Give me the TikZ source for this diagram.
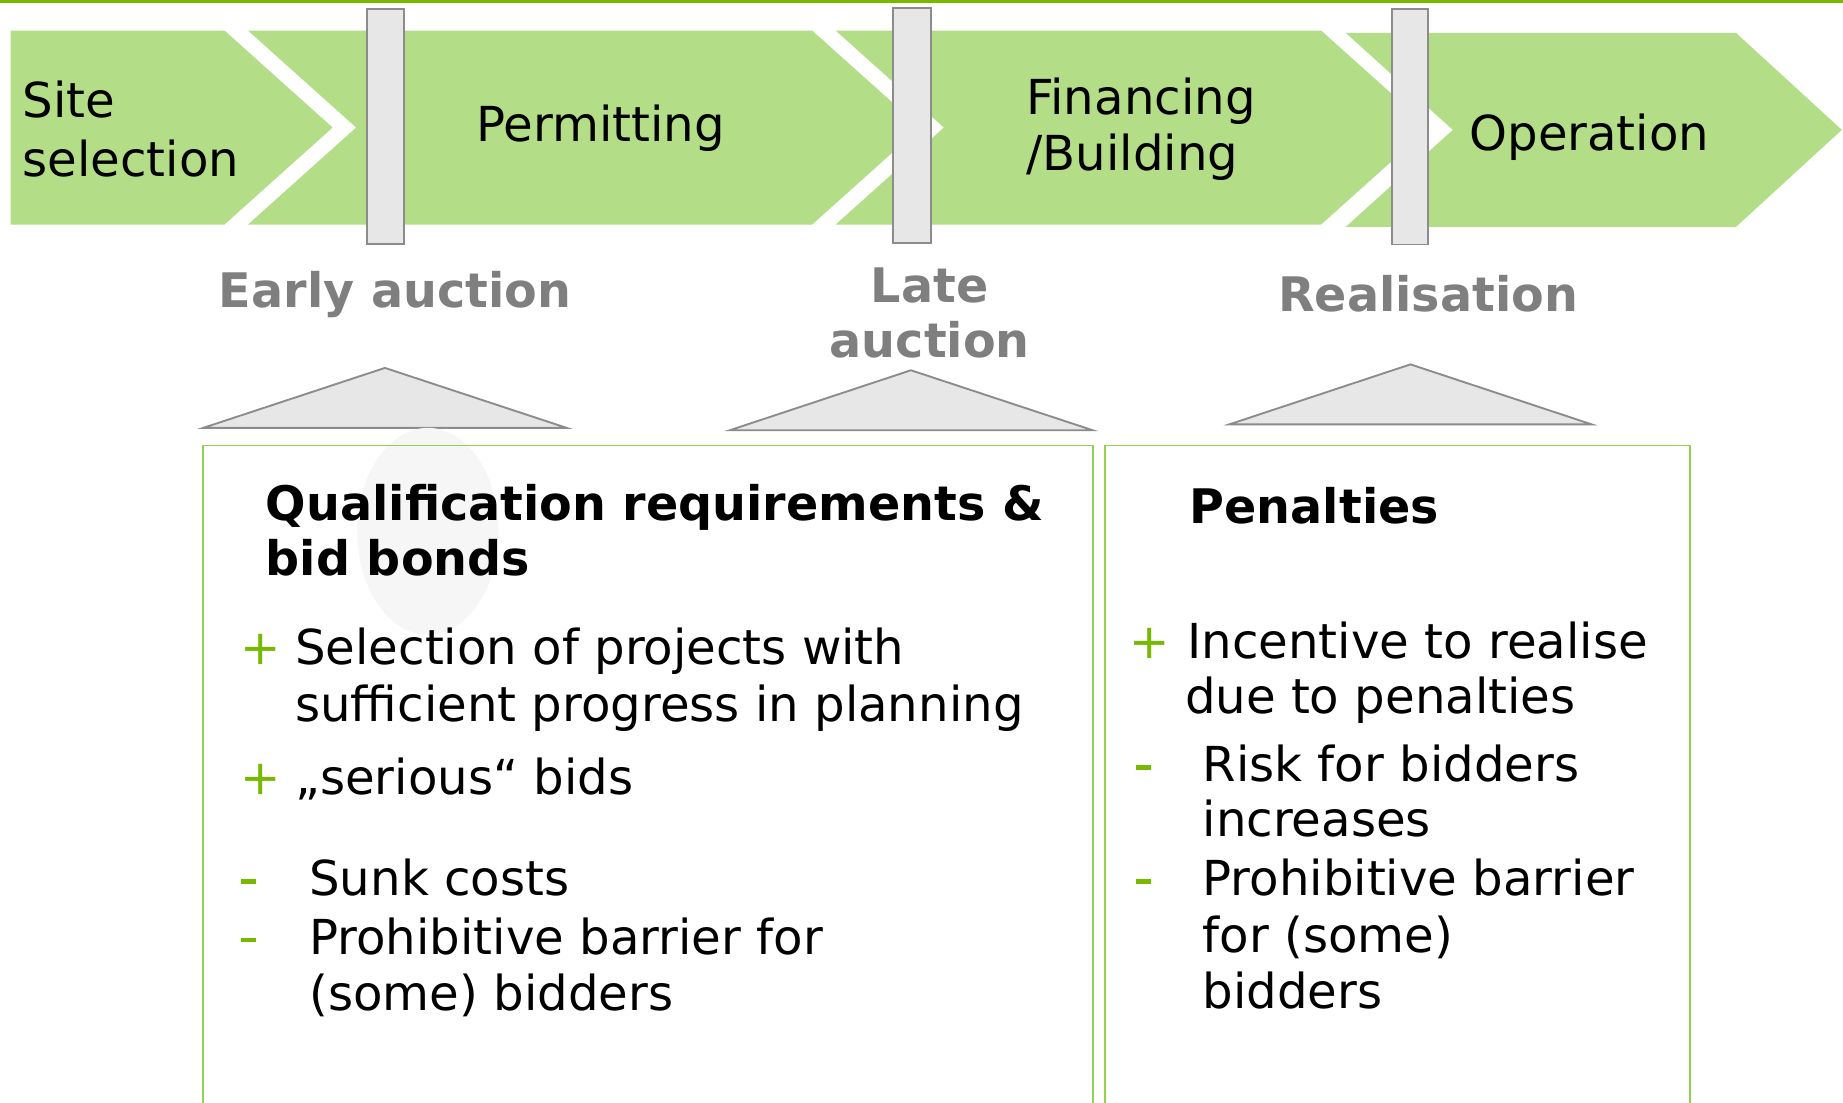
\documentclass[tikz,border=0pt]{standalone}
\usepackage{fontspec}
\setmainfont{DejaVu Sans}
\definecolor{chevgreen}{HTML}{B3DE87}
\definecolor{topgreen}{HTML}{7AB800}
\definecolor{boxgreen}{HTML}{92D050}
\definecolor{bulletgreen}{HTML}{76B900}
\definecolor{labelgray}{HTML}{7F7F7F}
\definecolor{barfill}{HTML}{E7E7E7}
\definecolor{barline}{HTML}{8C8C8C}
\definecolor{shadowgray}{HTML}{F6F6F6}
\newcommand{\greendash}{\textcolor{bulletgreen}{\rule[10.2pt]{13pt}{3.6pt}}}
\begin{document}
\begin{tikzpicture}[x=1pt,y=-1pt,
  chev/.style={fill=chevgreen,draw=none},
  bar/.style={fill=barfill,draw=barline,line width=1.6pt},
  tri/.style={fill=barfill,draw=barline,line width=1.6pt,line join=miter},
  panel/.style={draw=boxgreen,line width=1.6pt},
  txt/.style={inner sep=0pt,anchor=base west,font=\fontsize{41}{49}\selectfont},
  head/.style={txt,font=\fontsize{40.5}{49}\selectfont\bfseries},
  phase/.style={inner sep=0pt,anchor=base,font=\fontsize{40.5}{49}\selectfont\bfseries,text=labelgray},
  bul/.style={txt,text=bulletgreen}]
\useasboundingbox (0,0) rectangle (1568,938);
\fill[white] (0,0) rectangle (1568,938);
% top rule
\draw[topgreen,line width=3pt] (0,1) -- (1568,1);
% chevrons
\path[chev] (9,26) -- (191,26) -- (283,108.5) -- (191,191) -- (9,191) -- cycle;
\path[chev] (211,26) -- (691,26) -- (783,108.5) -- (691,191) -- (211,191) -- (303,108.5) -- cycle;
\path[chev] (711,26) -- (1124,26) -- (1216,108.5) -- (1124,191) -- (711,191) -- (803,108.5) -- cycle;
\path[chev] (1145,28) -- (1477,28) -- (1567,110.5) -- (1477,193) -- (1145,193) -- (1236,110.5) -- cycle;
% chevron labels
\node[txt] (site1) at (19,100) {Site};
\node[txt] (site2) at (19,150) {selection};
\node[txt] (perm) at (405,120) {Permitting};
\node[txt] (fin1) at (873,97) {Financing};
\node[txt] (fin2) at (873,145) {/Building};
\node[txt] (oper) at (1250,128) {Operation};
% milestone bars
\draw[bar] (312,8) rectangle (344,207.5);
\draw[bar] (760,7) rectangle (792,206.5);
\draw[bar] (1184,8) rectangle (1215,208);
% phase labels
\node[phase] (early) at (336,262) {Early auction};
\node[phase] (late1) at (791,257) {Late};
\node[phase] (late2) at (791,304) {auction};
\node[phase] (real) at (1215,265) {Realisation};
% triangles
\draw[tri] (173,364) -- (327.5,313) -- (482,364) -- cycle;
\draw[tri] (621,366) -- (775,315) -- (929.5,366) -- cycle;
\draw[tri] (1046,361) -- (1200,310) -- (1354,361) -- cycle;
% faint shadow
\fill[shadowgray] (364,452) ellipse [x radius=60, y radius=88];
% panels
\draw[panel] (173,945) -- (173,379) -- (930,379) -- (930,945);
\draw[panel] (940,945) -- (940,379) -- (1438,379) -- (1438,945);
% panel 1 text
\node[head] (q1) at (226,443) {Qualification requirements \&};
\node[head] (q2) at (226,490) {bid bonds};
\node[bul] (p1) at (204,565) {+};
\node[txt] (a1) at (251,565) {Selection of projects with};
\node[txt] (a2) at (251,614) {sufficient progress in planning};
\node[bul] (p2) at (204,676) {+};
\node[txt] (b1) at (251,676) {„serious“ bids};
\node[txt] (m1) at (205,762) {\greendash};
\node[txt] (c1) at (263,762) {Sunk costs};
\node[txt] (m2) at (205,812) {\greendash};
\node[txt] (d1) at (263,812) {Prohibitive barrier for};
\node[txt] (d2) at (263,860) {(some) bidders};
% panel 2 text
\node[head] (pen) at (1012,445) {Penalties};
\node[bul] (p3) at (961,560) {+};
\node[txt] (e1) at (1010,560) {Incentive to realise};
\node[txt] (e2) at (1008,607) {due to penalties};
\node[txt] (m3) at (966,665) {\greendash};
\node[txt] (f1) at (1023,665) {Risk for bidders};
\node[txt] (f2) at (1023,712) {increases};
\node[txt] (m4) at (966,762) {\greendash};
\node[txt] (g1) at (1023,762) {Prohibitive barrier};
\node[txt] (g2) at (1023,810) {for (some)};
\node[txt] (g3) at (1023,858) {bidders};
\end{tikzpicture}
\end{document}
